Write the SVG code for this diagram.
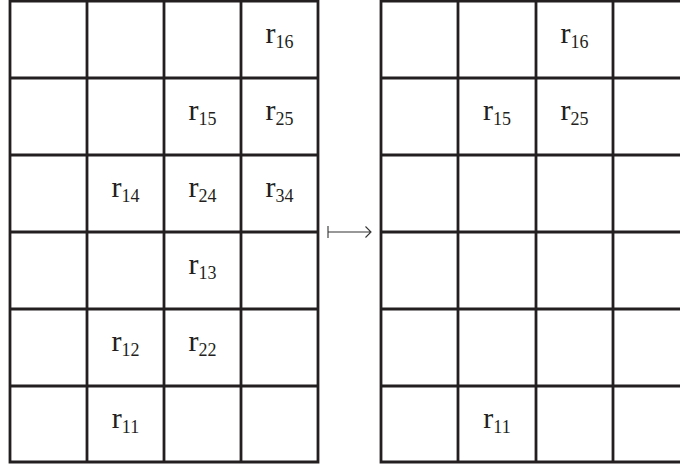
<svg xmlns="http://www.w3.org/2000/svg" width="680" height="466" viewBox="0 0 680 466">
<style>
.g{fill:none;stroke:#231f20;stroke-width:2.8;stroke-linecap:square}
.t{font-family:"Liberation Serif","DejaVu Serif",serif;font-size:30px;fill:#231f20;text-anchor:middle}
.s{font-size:18px}
.a{fill:none;stroke:#333;stroke-width:1.1}
</style>
<rect width="680" height="466" fill="#fff"/>
<g id="left-grid">
<path class="g" d="M10,1V462M87,1V462M164,1V462M241,1V462M318,1V462M10,1H318M10,78H318M10,155H318M10,232H318M10,309H318M10,386H318M10,462H318"/>
<text class="t" x="279.5" y="43">r<tspan class="s" dy="5">16</tspan></text>
<text class="t" x="202.5" y="120">r<tspan class="s" dy="5">15</tspan></text>
<text class="t" x="279.5" y="120">r<tspan class="s" dy="5">25</tspan></text>
<text class="t" x="125.5" y="197">r<tspan class="s" dy="5">14</tspan></text>
<text class="t" x="202.5" y="197">r<tspan class="s" dy="5">24</tspan></text>
<text class="t" x="279.5" y="197">r<tspan class="s" dy="5">34</tspan></text>
<text class="t" x="202.5" y="274">r<tspan class="s" dy="5">13</tspan></text>
<text class="t" x="125.5" y="351">r<tspan class="s" dy="5">12</tspan></text>
<text class="t" x="202.5" y="351">r<tspan class="s" dy="5">22</tspan></text>
<text class="t" x="125.5" y="428">r<tspan class="s" dy="5">11</tspan></text>
</g>
<g id="right-grid">
<path class="g" d="M381,1V462M458,1V462M536,1V462M613,1V462M381,1H690M381,78H690M381,155H690M381,232H690M381,309H690M381,386H690M381,462H690"/>
<text class="t" x="574.5" y="43">r<tspan class="s" dy="5">16</tspan></text>
<text class="t" x="497" y="120">r<tspan class="s" dy="5">15</tspan></text>
<text class="t" x="574.5" y="120">r<tspan class="s" dy="5">25</tspan></text>
<text class="t" x="497" y="428">r<tspan class="s" dy="5">11</tspan></text>
</g>
<g id="connectors">
<path class="a" d="M328,226V238M328,232H370M365.5,226.5L371,232L365.5,237.5"/>
</g>
</svg>
